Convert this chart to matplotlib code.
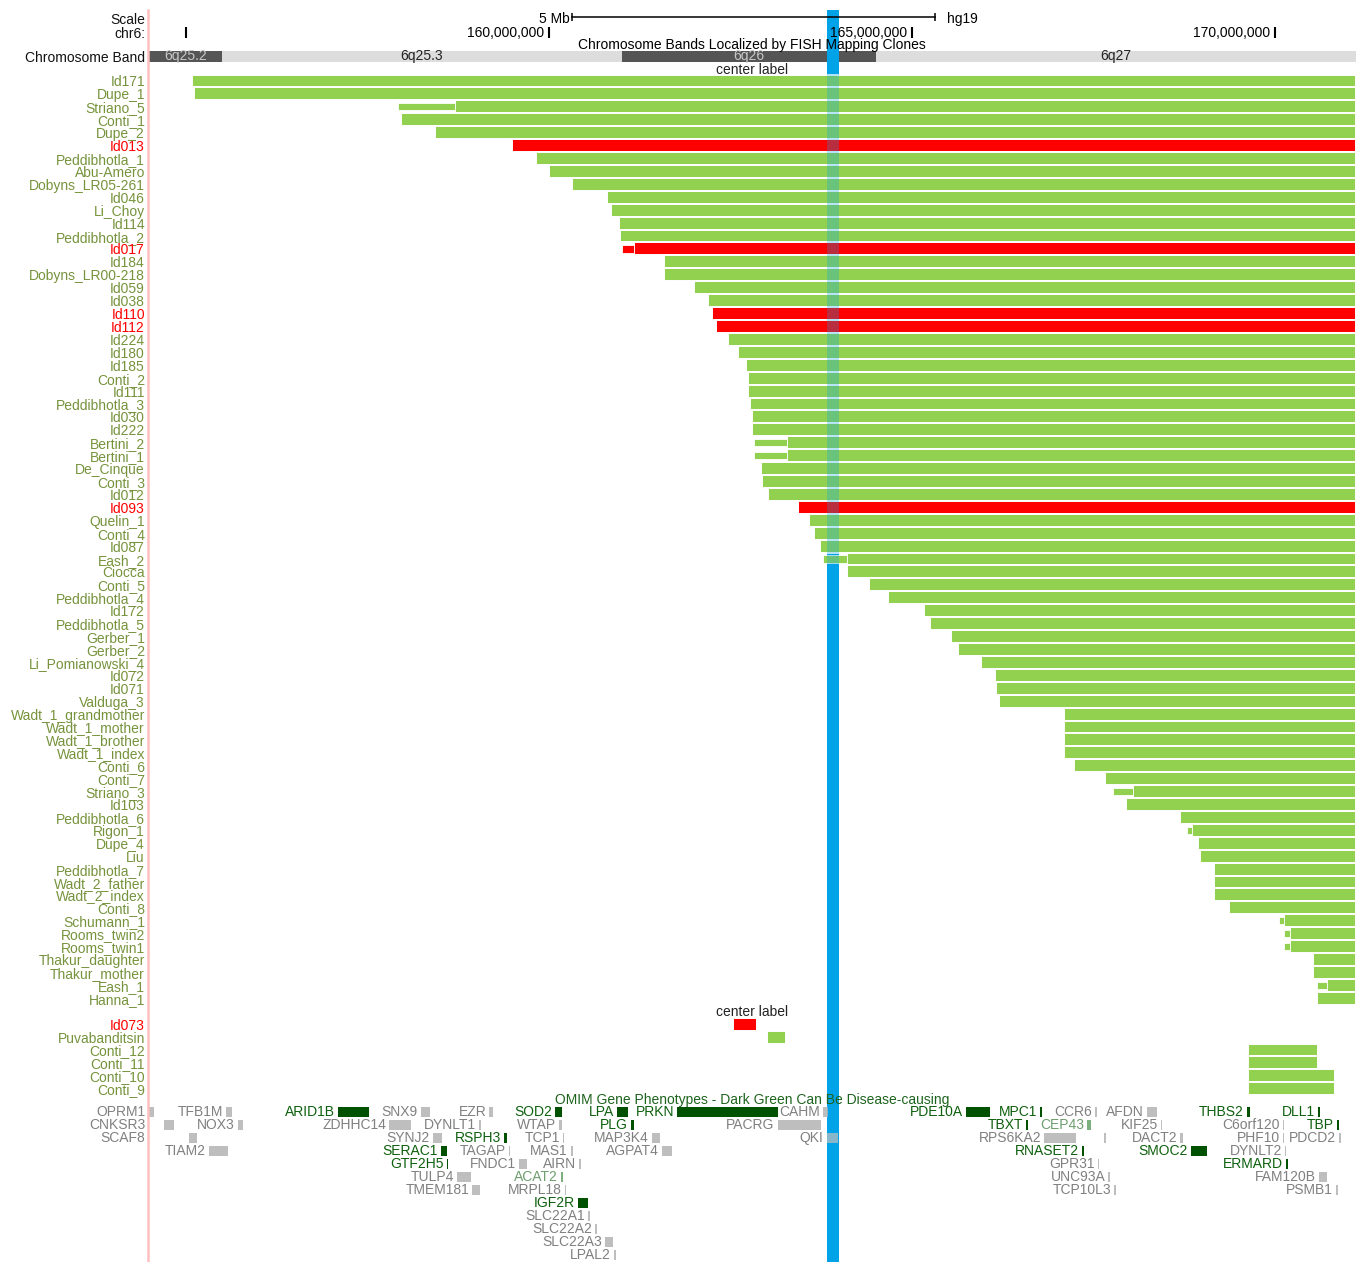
import numpy as np
import matplotlib.pyplot as plt

plt.rcParams['font.family'] = ['Liberation Sans', 'DejaVu Sans']

# hg19 view chr6:154,477,000-171,115,067, positions in Mb
view_start = 154.477
view_end = 171.115
view_mid = (view_start + view_end) / 2
highlight = (163.824, 163.989)

# terminal deletions, every bar runs to the end of chr6
samples = ["Id171", "Dupe_1", "Striano_5", "Conti_1", "Dupe_2", "Id013", "Peddibhotla_1",
           "Abu-Amero", "Dobyns_LR05-261", "Id046", "Li_Choy", "Id114", "Peddibhotla_2",
           "Id017", "Id184", "Dobyns_LR00-218", "Id059", "Id038", "Id110", "Id112", "Id224",
           "Id180", "Id185", "Conti_2", "Id111", "Peddibhotla_3", "Id030", "Id222",
           "Bertini_2", "Bertini_1", "De_Cinque", "Conti_3", "Id012", "Id093", "Quelin_1",
           "Conti_4", "Id087", "Eash_2", "Ciocca", "Conti_5", "Peddibhotla_4", "Id172",
           "Peddibhotla_5", "Gerber_1", "Gerber_2", "Li_Pomianowski_4", "Id072", "Id071",
           "Valduga_3", "Wadt_1_grandmother", "Wadt_1_mother", "Wadt_1_brother",
           "Wadt_1_index", "Conti_6", "Conti_7", "Striano_3", "Id103", "Peddibhotla_6",
           "Rigon_1", "Dupe_4", "Liu", "Peddibhotla_7", "Wadt_2_father", "Wadt_2_index",
           "Conti_8", "Schumann_1", "Rooms_twin2", "Rooms_twin1", "Thakur_daughter",
           "Thakur_mother", "Eash_1", "Hanna_1"]
del_start = [155.083, 155.110, 158.705, 157.961, 158.430, 159.490, 159.821, 160.000, 160.317,
             160.799, 160.854, 160.964, 160.978, 161.171, 161.584, 161.584, 161.997, 162.190,
             162.245, 162.300, 162.468, 162.607, 162.718, 162.741, 162.741, 162.775, 162.793,
             162.793, 163.274, 163.274, 162.920, 162.932, 163.019, 163.426, 163.576, 163.646,
             163.738, 164.110, 164.110, 164.412, 164.667, 165.165, 165.252, 165.537, 165.630,
             165.948, 166.139, 166.157, 166.198, 167.091, 167.091, 167.091, 167.091, 167.236,
             167.658, 168.048, 167.944, 168.691, 168.854, 168.939, 168.964, 169.156, 169.156,
             169.156, 169.371, 170.129, 170.211, 170.211, 170.518, 170.518, 170.722, 170.583]
# breakpoint interval, drawn thinner in front of the bar
fuzzy_start = {"Striano_5": 157.920, "Id017": 161.006, "Bertini_2": 162.822,
               "Bertini_1": 162.822, "Eash_2": 163.774, "Striano_3": 167.763,
               "Rigon_1": 168.784, "Schumann_1": 170.048, "Rooms_twin2": 170.118,
               "Rooms_twin1": 170.118, "Eash_1": 170.583}
red_ids = ["Id013", "Id017", "Id110", "Id112", "Id093", "Id073"]

# interstitial cases under the gap
inter_names = ["Id073", "Puvabanditsin", "Conti_12", "Conti_11", "Conti_10", "Conti_9"]
inter_start = [162.539, 163.007, 169.628, 169.628, 169.628, 169.628]
inter_end = [162.869, 163.260, 170.592, 170.592, 170.826, 170.826]

# ideogram bands
band_names = ["6q25.2", "6q25.3", "6q26", "6q27"]
band_start = [152.5, 155.5, 161.0, 164.5]
band_end = [155.5, 161.0, 164.5, 171.115]
band_dark = [True, False, True, False]

ruler_ticks = [155, 160, 165, 170]
ruler_labels = ["", "160,000,000", "165,000,000", "170,000,000"]
scale_bar_start = 160.317

# OMIM genes: kind d = dark green (disease), m = mid green, g = grey
gene_names = ["OPRM1", "TFB1M", "ARID1B", "SNX9", "EZR", "SOD2", "LPA", "PRKN", "CAHM",
              "PDE10A", "MPC1", "CCR6", "AFDN", "THBS2", "DLL1",
              "CNKSR3", "NOX3", "ZDHHC14", "DYNLT1", "WTAP", "PLG", "PACRG", "TBXT", "CEP43",
              "KIF25", "C6orf120", "TBP",
              "SCAF8", "SYNJ2", "RSPH3", "TCP1", "MAP3K4", "QKI", "RPS6KA2", "", "DACT2",
              "PHF10", "PDCD2",
              "TIAM2", "SERAC1", "TAGAP", "MAS1", "AGPAT4", "RNASET2", "SMOC2", "DYNLT2",
              "GTF2H5", "FNDC1", "AIRN", "GPR31", "ERMARD",
              "TULP4", "ACAT2", "UNC93A", "FAM120B",
              "TMEM181", "MRPL18", "TCP10L3", "PSMB1",
              "IGF2R", "SLC22A1", "SLC22A2", "SLC22A3", "LPAL2"]
gene_start = [154.490, 155.547, 157.090, 158.233, 159.178, 160.083, 160.937, 161.763, 163.774,
              165.740, 166.763, 167.517, 168.233, 169.610, 170.588,
              154.701, 155.712, 157.796, 159.036, 160.134, 161.125, 163.150, 166.570, 167.410,
              168.426, 170.106, 170.850,
              155.041, 158.398, 159.384, 160.189, 161.415, 163.825, 166.822, 167.645, 168.691,
              170.106, 170.885,
              155.317, 158.512, 159.449, 160.299, 161.552, 167.337, 168.839, 170.138,
              158.591, 159.591, 160.417, 167.562, 170.152,
              158.729, 160.170, 167.704, 170.610,
              158.944, 160.220, 167.787, 170.840,
              160.395, 160.537, 160.638, 160.771, 160.895]
gene_end = [154.559, 155.634, 157.525, 158.361, 159.233, 160.175, 161.088, 163.150, 163.843,
            166.074, 166.791, 167.544, 168.371, 169.656, 170.620,
            154.835, 155.781, 158.095, 159.063, 160.175, 161.171, 163.742, 166.598, 167.461,
            168.444, 170.124, 170.885,
            155.156, 158.522, 159.417, 160.211, 161.529, 163.985, 167.259, 167.666, 168.728,
            170.124, 170.904,
            155.583, 158.591, 159.463, 160.326, 161.690, 167.369, 169.059, 170.152,
            158.613, 159.693, 160.437, 167.580, 170.183,
            158.921, 160.189, 167.727, 170.720,
            159.050, 160.234, 167.806, 170.864,
            160.533, 160.565, 160.662, 160.877, 160.923]
gene_row = [0] * 15 + [1] * 12 + [2] * 11 + [3] * 8 + [4] * 5 + [5] * 4 + [6] * 4 + \
           [7, 8, 9, 10, 11]
gene_kind = ["g", "g", "d", "g", "g", "d", "d", "d", "g", "d", "d", "g", "g", "d", "d",
             "g", "g", "g", "g", "g", "d", "g", "d", "m", "g", "g", "d",
             "g", "g", "d", "g", "g", "g", "g", "g", "g", "g", "g",
             "g", "d", "g", "g", "g", "d", "d", "g",
             "d", "g", "g", "g", "d",
             "g", "m", "g", "g",
             "g", "g", "g", "g",
             "d", "g", "g", "g", "g"]
margin_genes = ["OPRM1", "CNKSR3", "SCAF8"]

green = '#92D050'
red = '#FF0000'
blue = '#00A2E8'
label_green = '#76933C'
box_col = {"g": '#BEBEBE', "d": '#005200', "m": '#7DB07D'}
text_col = {"g": '#808080', "d": '#0E600E', "m": '#6E9E6E'}

fig = plt.figure(figsize=(13.65, 12.62), dpi=100)
ax = fig.add_axes([148 / 1365, 0, 1208 / 1365, 1252 / 1262])
ax.set_xlim(view_start, view_end)
ax.set_ylim(91.41, -5.495)

# header rows
y_scale, y_chr, y_fish, y_band, y_center = -4.8, -3.715, -2.786, -1.896, -0.85

# highlight line (solid underneath, faint wash over the bars)
ax.axvspan(*highlight, color=blue, lw=0, zorder=0.5)
ax.axvspan(*highlight, color=blue, lw=0, alpha=0.28, zorder=2.5)

# deletion bars; white edges keep a light gap between rows
rows = np.arange(len(samples))
colors = [red if s in red_ids else green for s in samples]
ax.barh(rows, view_end - np.array(del_start), left=del_start, height=1.0,
        color=colors, edgecolor='white', linewidth=1.4, zorder=2)
for name, x0 in fuzzy_start.items():
    i = samples.index(name)
    ax.barh(i, del_start[i] - x0, left=x0, height=0.55, color=colors[i],
            edgecolor='white', linewidth=0.6, zorder=2)

inter_rows = len(samples) + 1 + np.arange(len(inter_names))
inter_colors = [red if s in red_ids else green for s in inter_names]
ax.barh(inter_rows, np.array(inter_end) - np.array(inter_start), left=inter_start,
        height=1.0, color=inter_colors, edgecolor='white', linewidth=1.4, zorder=2)
ax.text(view_mid, len(samples) + 0.06, "center label", ha='center', va='center',
        fontsize=10, color='#222222', zorder=3)

# left labels
head_names = ["Scale", "chr6:", "Chromosome Band"]
tick_rows = list(rows) + list(inter_rows) + [y_scale, y_chr, y_band]
tick_labels = samples + inter_names + head_names
ax.set_yticks(tick_rows, tick_labels)
for lbl, name in zip(ax.get_yticklabels(), tick_labels):
    if name in head_names:
        lbl.set_color('#111111')
    elif name in red_ids:
        lbl.set_color(red)
    else:
        lbl.set_color(label_green)
ax.tick_params(axis='y', length=0, pad=2.2, labelsize=10)
ax.tick_params(axis='x', bottom=False, labelbottom=False)
for side in ['top', 'right', 'bottom']:
    ax.spines[side].set_visible(False)
ax.spines['left'].set_color('#FFBFBF')
ax.spines['left'].set_linewidth(1.8)

# ruler
ax.vlines(ruler_ticks, y_chr - 0.45, y_chr + 0.38, color='black', lw=1.5, zorder=3)
for t, lab in zip(ruler_ticks, ruler_labels):
    ax.annotate(lab, (t, y_chr), xytext=(-5, 0), textcoords='offset pixels',
                ha='right', va='center', fontsize=10)
sb = [scale_bar_start, scale_bar_start + 5]
ax.plot(sb, [y_scale - 0.15] * 2, color='black', lw=1.1, zorder=3)
ax.vlines(sb, y_scale - 0.45, y_scale + 0.15, color='black', lw=1.1, zorder=3)
ax.annotate("5 Mb", (sb[0], y_scale), xytext=(-2, 0), textcoords='offset pixels',
            ha='right', va='center', fontsize=10)
ax.annotate("hg19", (sb[1], y_scale), xytext=(12, 0), textcoords='offset pixels',
            ha='left', va='center', fontsize=10)
ax.text(view_mid, y_fish, "Chromosome Bands Localized by FISH Mapping Clones",
        ha='center', va='center', fontsize=10, zorder=3)

# ideogram
b_left = np.maximum(band_start, view_start)
b_right = np.minimum(band_end, view_end)
ax.barh(y_band, b_right - b_left, left=b_left, height=0.85, lw=0, zorder=0.3,
        color=['#555555' if d else '#DDDDDD' for d in band_dark])
for name, l, r, d in zip(band_names, b_left, b_right, band_dark):
    ax.text((l + r) / 2, y_band, name, ha='center', va='center', fontsize=10,
            color='#C8C8C8' if d else '#222222', zorder=3)
ax.text(view_mid, y_center, "center label", ha='center', va='center', fontsize=10,
        color='#222222', zorder=3)

# OMIM gene track
gene_y0 = 79.8
ax.text(view_mid, gene_y0 - 0.92, "OMIM Gene Phenotypes - Dark Green Can Be Disease-causing",
        ha='center', va='center', fontsize=10, color='#1E641E', zorder=3)
g_y = gene_y0 + 1.006 * np.array(gene_row)
ax.barh(g_y, np.array(gene_end) - np.array(gene_start), left=gene_start, height=0.78,
        color=[box_col[k] for k in gene_kind], lw=0, zorder=2)
for name, x0, y, k in zip(gene_names, gene_start, g_y, gene_kind):
    if not name:
        continue
    xa = view_start if name in margin_genes else x0
    ax.annotate(name, (xa, y), xytext=(-3, 0), textcoords='offset pixels',
                ha='right', va='center', fontsize=10, color=text_col[k],
                annotation_clip=False, zorder=3)

fig.savefig('out.png', dpi=100)
